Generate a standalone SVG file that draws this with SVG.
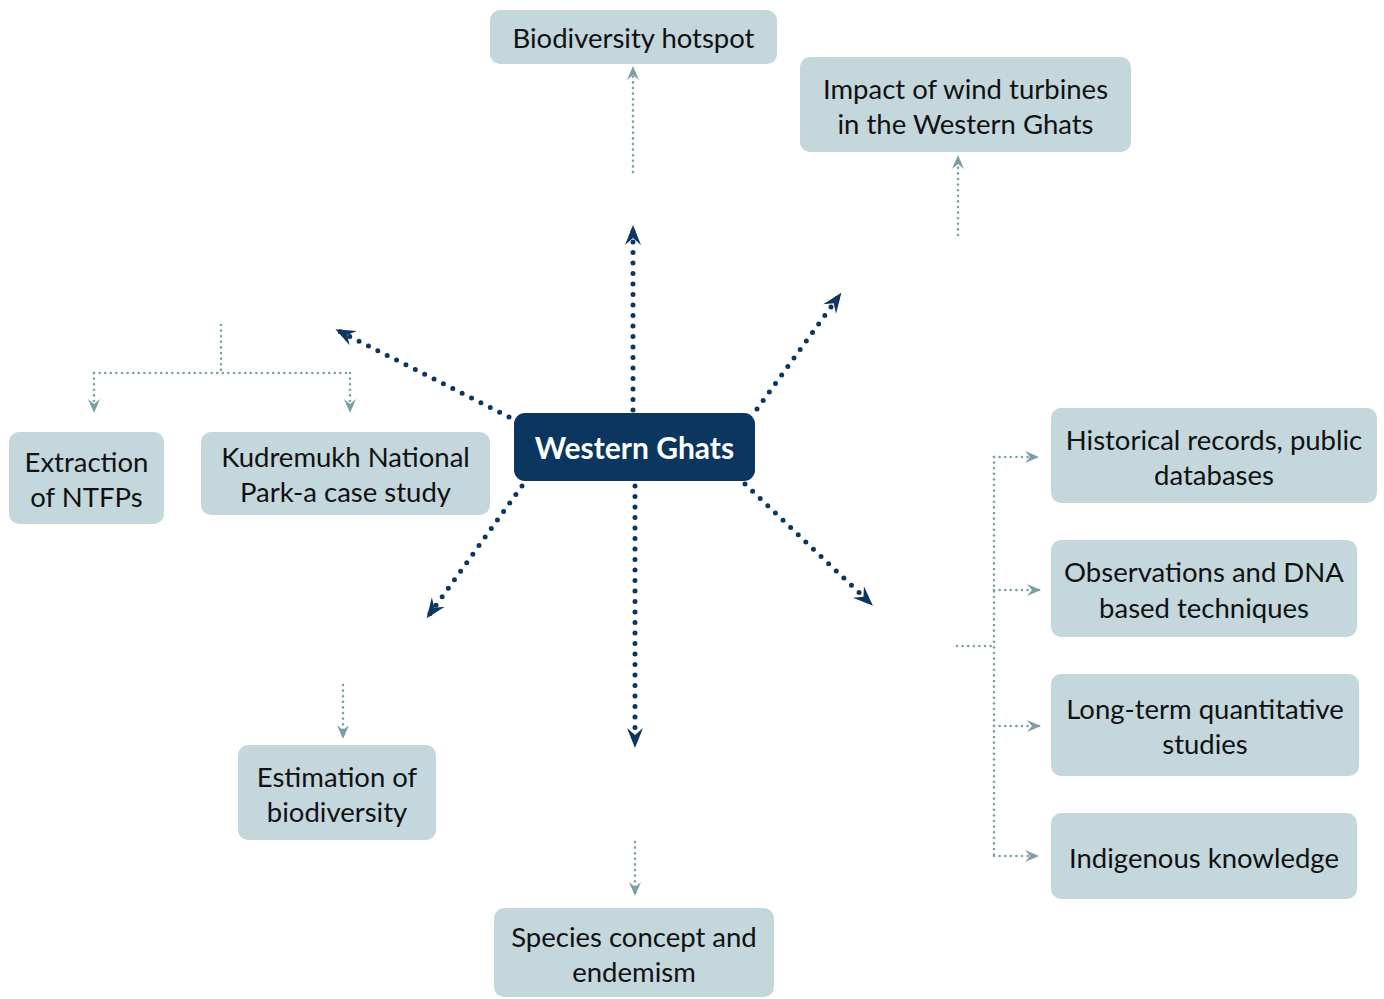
<svg xmlns="http://www.w3.org/2000/svg" width="1384" height="999" viewBox="0 0 1384 999">
  <defs>
    <style>
      .box { fill: #c3d7dd; }
      .hub { fill: #0b3660; }
      .lbl { font-family: "Lato", "Open Sans", sans-serif; font-size: 27.5px; fill: #111; text-anchor: middle; }
      .hubl { font-family: "Lato", "Open Sans", sans-serif; font-size: 30px; font-weight: bold; fill: #fff; text-anchor: middle; }
      .main { fill: none; stroke: #0b3660; stroke-width: 5; stroke-linecap: round; stroke-dasharray: 0 10.5; marker-end: url(#dark); }
      .sub { fill: none; stroke: #7a9fa8; stroke-width: 2.6; stroke-linecap: round; stroke-dasharray: 0 5.6; }
      .subA { marker-end: url(#light); }
    </style>
    <marker id="dark" markerUnits="userSpaceOnUse" viewBox="-20 -10 26 20" refX="0" refY="0" markerWidth="26" markerHeight="20" orient="auto">
      <path d="M4,0 L-16,-8 L-9,0 L-16,8 Z" fill="#0b3660"/>
    </marker>
    <marker id="light" markerUnits="userSpaceOnUse" viewBox="-15 -8 19 16" refX="0" refY="0" markerWidth="19" markerHeight="16" orient="auto">
      <path d="M2,0 L-12,-6 L-7,0 L-12,6 Z" fill="#7a9fa8"/>
    </marker>
  </defs>

  <!-- connectors -->
  <g id="connectors">
    <!-- spokes from the hub -->
    <path class="main" d="M633,410 L633,229"/>
    <path class="main" d="M635,486 L635,744"/>
    <path class="main" d="M509,417 L339,331"/>
    <path class="main" d="M757,409 L839,296"/>
    <path class="main" d="M522,486 L429,615"/>
    <path class="main" d="M745,484 L870,603"/>

    <!-- secondary links -->
    <path class="sub subA" d="M633,172 L633,68"/>
    <path class="sub subA" d="M958,235 L958,157"/>
    <path class="sub subA" d="M343,685 L343,737"/>
    <path class="sub subA" d="M635,842 L635,894"/>

    <!-- left branch -->
    <path class="sub" d="M221,325 L221,373"/>
    <path class="sub" d="M94,373 L350,373"/>
    <path class="sub subA" d="M94,373 L94,411"/>
    <path class="sub subA" d="M350,373 L350,411"/>

    <!-- right bracket -->
    <path class="sub" d="M957,646 L994,646"/>
    <path class="sub" d="M994,457 L994,856"/>
    <path class="sub subA" d="M994,457 L1037,457"/>
    <path class="sub subA" d="M994,590 L1039,590"/>
    <path class="sub subA" d="M994,726 L1039,726"/>
    <path class="sub subA" d="M994,856 L1037,856"/>
  </g>

  <!-- hub -->
  <g id="western-ghats">
    <rect class="hub" x="514" y="413" width="241" height="68" rx="11"/>
    <text class="hubl" x="634.5" y="459">Western Ghats</text>
  </g>

  <g id="biodiversity-hotspot">
    <rect class="box" x="490" y="10" width="287" height="54" rx="10"/>
    <text class="lbl" x="633.5" y="48">Biodiversity hotspot</text>
  </g>

  <g id="wind-turbines">
    <rect class="box" x="800" y="57" width="331" height="95" rx="10"/>
    <text class="lbl" x="965.5" y="99">Impact of wind turbines</text>
    <text class="lbl" x="965.5" y="134">in the Western Ghats</text>
  </g>

  <g id="historical-records">
    <rect class="box" x="1051" y="408" width="326" height="95" rx="10"/>
    <text class="lbl" x="1214" y="450">Historical records, public</text>
    <text class="lbl" x="1214" y="485">databases</text>
  </g>

  <g id="observations-dna">
    <rect class="box" x="1051" y="540" width="306" height="97" rx="10"/>
    <text class="lbl" x="1204" y="582">Observations and DNA</text>
    <text class="lbl" x="1204" y="618">based techniques</text>
  </g>

  <g id="long-term-studies">
    <rect class="box" x="1051" y="674" width="308" height="102" rx="10"/>
    <text class="lbl" x="1205" y="719">Long-term quantitative</text>
    <text class="lbl" x="1205" y="754">studies</text>
  </g>

  <g id="indigenous-knowledge">
    <rect class="box" x="1051" y="813" width="306" height="86" rx="10"/>
    <text class="lbl" x="1204" y="868">Indigenous knowledge</text>
  </g>

  <g id="species-concept">
    <rect class="box" x="494" y="908" width="280" height="89" rx="10"/>
    <text class="lbl" x="634" y="947">Species concept and</text>
    <text class="lbl" x="634" y="982">endemism</text>
  </g>

  <g id="estimation-biodiversity">
    <rect class="box" x="238" y="745" width="198" height="95" rx="10"/>
    <text class="lbl" x="337" y="787">Estimation of</text>
    <text class="lbl" x="337" y="822">biodiversity</text>
  </g>

  <g id="extraction-ntfps">
    <rect class="box" x="9" y="432" width="155" height="92" rx="10"/>
    <text class="lbl" x="86.5" y="472">Extraction</text>
    <text class="lbl" x="86.5" y="507">of NTFPs</text>
  </g>

  <g id="kudremukh">
    <rect class="box" x="201" y="432" width="289" height="83" rx="10"/>
    <text class="lbl" x="345.5" y="467">Kudremukh National</text>
    <text class="lbl" x="345.5" y="502">Park-a case study</text>
  </g>
</svg>
